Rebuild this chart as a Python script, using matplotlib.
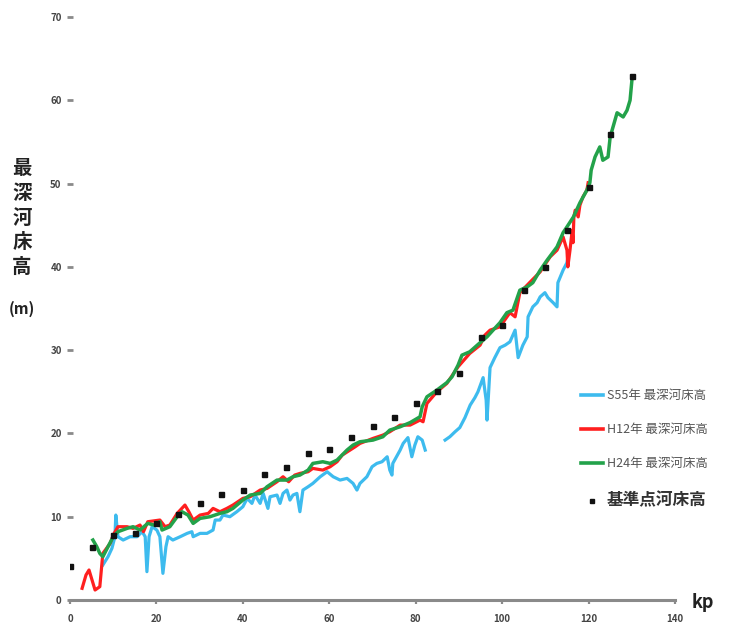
import matplotlib
matplotlib.use("Agg")
import matplotlib.pyplot as plt
from matplotlib.lines import Line2D

plt.rcParams['font.family'] = ['Noto Sans CJK JP', 'DejaVu Sans']

nan = float('nan')

# River-bed profile surveys: distance (kp) vs. deepest bed elevation (m)
blue_kp = [7.6, 8.8, 9.7, 10.4, 10.6, 11.1, 12.3, 13.9, 15.5, 16.7, 17.4, 17.8, 18.3, 19.0, 20.1,
           20.8, 21.5, 22.2, 22.7, 23.8, 25.5, 27.1, 28.2, 28.5, 30.1, 31.7, 33.1, 33.6, 34.7,
           35.4, 37.0, 38.6, 40.0, 41.0, 42.1, 42.8, 44.0, 44.7, 45.8, 46.3, 47.9, 48.6, 49.3,
           50.2, 50.9, 51.6, 52.5, 53.2, 53.9, 55.1, 56.2, 57.9, 59.5, 60.9, 62.5, 64.1, 65.5,
           66.4, 67.1, 68.7, 69.9, 71.0, 72.2, 73.4, 74.0, 74.5, 74.7, 76.4, 77.1, 78.2, 79.1,
           79.8, 80.5, 81.5, 82.2, 84.5, 86.8, 87.9, 89.1, 90.2, 91.4, 92.6, 93.7, 94.4, 95.6,
           96.3, 96.5, 97.2, 98.3, 99.5, 100.7, 101.8, 103.0, 103.7, 104.8, 105.8, 106.0, 107.1,
           108.1, 108.8, 109.9, 110.6, 111.8, 112.7, 112.9, 114.1, 115.0, 115.2]
blue_m = [4.2, 5.2, 6.2, 7.6, 10.2, 7.6, 7.2, 7.6, 7.6, 8.2, 7.6, 3.4, 7.6, 8.8, 8.4,
          7.6, 3.2, 6.4, 7.6, 7.2, 7.6, 8.0, 8.2, 7.6, 8.0, 8.0, 8.4, 9.6, 9.6,
          10.2, 10.0, 10.6, 11.2, 12.2, 11.6, 12.6, 11.6, 12.8, 11.0, 12.4, 12.6, 11.6, 12.8,
          13.2, 12.0, 12.6, 12.8, 10.6, 13.2, 13.6, 14.0, 14.8, 15.4, 14.8, 14.4, 14.6, 14.0,
          13.2, 14.0, 14.8, 16.0, 16.4, 16.6, 17.2, 15.6, 15.0, 16.4, 18.0, 18.8, 19.5, 17.2,
          18.6, 19.6, 19.2, 18.0, nan, 19.2, 19.6, 20.2, 20.7, 21.9, 23.4, 24.3, 25.0, 26.7,
          24.0, 21.6, 27.9, 29.1, 30.3, 30.6, 31.0, 32.4, 29.1, 30.6, 31.6, 34.0, 35.2,
          35.7, 36.4, 36.9, 36.3, 35.7, 35.2, 38.1, 39.6, 40.5, 41.1]

red_kp = [2.8, 3.7, 4.4, 5.1, 5.8, 6.9, 7.6, 9.3, 10.0, 11.1, 13.2, 14.6, 16.2, 17.0, 18.0,
          20.8, 22.0, 23.1, 24.8, 26.6, 27.5, 28.5, 30.1, 32.0, 33.1, 34.7, 36.3, 37.7, 40.0,
          41.7, 44.0, 45.6, 47.9, 49.3, 50.6, 52.0, 53.2, 55.1, 56.2, 58.5, 60.2, 61.8, 63.0,
          64.8, 66.0, 67.1, 70.1, 72.4, 74.0, 76.4, 78.7, 81.0, 81.7, 82.6, 84.9, 87.2, 89.8,
          92.5, 94.9, 96.0, 97.2, 99.5, 101.8, 103.0, 104.1, 106.9, 108.8, 111.1, 112.7, 114.1,
          115.0, 115.2, 115.7, 116.2, 116.4, 116.6, 116.9, 117.6, 118.0, 118.7, 119.6, 119.9]
red_m = [1.4, 3.0, 3.6, 2.4, 1.2, 1.6, 5.6, 6.8, 7.8, 8.8, 8.8, 8.6, 9.0, 8.2, 9.4,
         9.6, 8.8, 9.0, 10.4, 11.4, 10.6, 9.6, 10.2, 10.4, 11.0, 10.6, 11.0, 11.4, 12.2,
         12.4, 13.2, 13.4, 14.2, 14.8, 14.2, 15.0, 15.2, 15.4, 15.8, 15.6, 16.0, 16.6, 17.4,
         18.0, 18.4, 18.8, 19.4, 19.8, 20.2, 21.0, 21.0, 21.6, 21.4, 23.6, 25.0, 26.0, 28.0,
         29.6, 30.6, 31.8, 32.4, 32.8, 34.5, 34.0, 36.9, 38.4, 39.4, 41.2, 42.0, 43.6,
         42.0, 40.0, 42.0, 44.4, 42.9, 46.0, 46.8, 46.0, 47.4, 48.4, 49.2, 50.1]

green_kp = [5.3, 6.2, 6.9, 7.6, 8.6, 10.0, 11.1, 13.2, 14.6, 16.2, 18.0, 19.4, 20.8, 21.3, 23.1,
            24.8, 25.9, 27.3, 28.5, 30.1, 32.4, 34.7, 36.3, 37.7, 40.0, 41.7, 44.0, 45.6, 47.9,
            50.2, 51.6, 53.2, 55.1, 56.2, 58.5, 60.2, 61.8, 64.1, 65.5, 67.1, 70.1, 72.4, 74.0,
            76.4, 78.7, 81.0, 81.5, 82.6, 84.9, 87.2, 88.4, 89.8, 90.7, 92.5, 94.9, 96.5, 97.9,
            99.5, 101.1, 102.5, 104.1, 105.8, 107.1, 108.8, 110.4, 112.7, 114.1, 115.0, 116.5,
            118.0, 119.6, 120.3, 120.6, 121.5, 122.6, 123.3, 124.5, 125.0, 126.6, 128.0, 128.9,
            129.6, 130.1]
green_m = [7.2, 6.4, 5.6, 5.2, 6.2, 7.6, 8.2, 8.6, 8.8, 8.4, 9.2, 9.0, 9.4, 8.4, 8.8,
           10.0, 10.6, 10.2, 9.2, 9.8, 10.0, 10.4, 10.6, 11.0, 12.0, 12.6, 12.8, 13.6, 14.4,
           14.4, 14.8, 15.0, 15.6, 16.4, 16.6, 16.4, 16.8, 18.0, 18.6, 19.0, 19.2, 19.6, 20.4,
           20.8, 21.3, 22.0, 23.2, 24.4, 25.2, 26.1, 26.8, 28.2, 29.4, 29.8, 30.9, 31.6, 32.4,
           33.3, 34.5, 34.8, 37.2, 37.6, 38.1, 39.6, 40.8, 42.4, 44.1, 44.8, 46.0,
           47.7, 49.2, 50.1, 51.6, 53.2, 54.4, 52.8, 53.2, 55.6, 58.5, 58.0, 58.8,
           60.0, 62.8]

point_kp = [0, 5, 10, 15, 20, 25, 30, 35, 40, 45, 50, 55, 60, 65, 70, 75, 80, 85, 90, 95,
            100, 105, 110, 115, 120, 125, 130]
point_m = [4.1, 6.4, 7.8, 8.0, 9.2, 10.3, 11.6, 12.7, 13.2, 15.1, 16.0, 17.6, 18.1, 19.6, 20.9,
           22.0, 23.7, 25.1, 27.2, 31.6, 33.0, 37.2, 40.0, 44.4, 49.6, 56.0, 62.9]

series_labels = ["S55年 最深河床高", "H12年 最深河床高", "H24年 最深河床高", "基準点河床高"]
x_ticks = [0, 20, 40, 60, 80, 100, 120, 140]
y_ticks = [0, 10, 20, 30, 40, 50, 60, 70]

W, H = 734, 623
fig = plt.figure(figsize=(W / 100, H / 100), dpi=100)
ax = fig.add_axes([70 / W, 23 / H, 605 / W, 583 / H])

c_blue, c_red, c_green = "#3dbbee", "#ff1f1f", "#23a24a"
ax.plot(blue_kp, blue_m, color=c_blue, lw=2.3, solid_joinstyle="round", zorder=2)
ax.plot(red_kp, red_m, color=c_red, lw=2.3, solid_joinstyle="round", zorder=3)
ax.plot(green_kp, green_m, color=c_green, lw=2.5, solid_joinstyle="round", zorder=4)
ax.plot(point_kp, point_m, ls="none", marker="s", ms=3.6, color="#111111", zorder=5)

ax.set_xlim(0, 140)
ax.set_ylim(0, 70)
ax.set_xticks(x_ticks)
ax.set_xticklabels([str(v) for v in x_ticks])
ax.set_yticks(y_ticks)
ax.set_yticklabels([str(v) for v in y_ticks])

for s in ("top", "right", "left"):
    ax.spines[s].set_visible(False)
ax.spines["bottom"].set_color("#8a8a8a")
ax.spines["bottom"].set_linewidth(2.2)

ax.tick_params(axis="x", direction="out", length=3, width=1.6, color="#8a8a8a",
               pad=7, labelsize=7, labelcolor="#444444")
ax.tick_params(axis="y", direction="inout", length=5, width=2, color="#8a8a8a",
               pad=3.5, labelsize=7, labelcolor="#444444")
for lab in ax.get_xticklabels() + ax.get_yticklabels():
    lab.set_fontweight("bold")

# vertical axis title, characters stacked top to bottom
title_chars = "最深河床高"
for i, ch in enumerate(title_chars):
    fig.text(22 / W, 1 - (169 + i * 24.5) / H, ch, ha="center", va="center",
             fontsize=14, fontweight="bold", color="#222222")
fig.text(22 / W, 1 - 309 / H, "(m)", ha="center", va="center",
         fontsize=11, fontweight="bold", color="#222222")

fig.text(703 / W, 1 - 603 / H, "kp", ha="center", va="center",
         fontsize=13, fontweight="bold", color="#222222")

handles = [
    Line2D([], [], color=c_blue, lw=2.6),
    Line2D([], [], color=c_red, lw=2.6),
    Line2D([], [], color=c_green, lw=2.6),
    Line2D([], [], ls="none", marker="s", ms=3, color="#111111"),
]
leg = fig.legend(handles, series_labels, loc="upper left",
                 bbox_to_anchor=(576 / W, 1 - 384 / H), frameon=False,
                 fontsize=9, handlelength=1.75, handletextpad=0.3,
                 labelspacing=1.7, borderaxespad=0)
for i, t in enumerate(leg.get_texts()):
    t.set_color("#555555")
    if i == 3:
        t.set_fontsize(12)
        t.set_fontweight("bold")
        t.set_color("#333333")

fig.savefig("out.png", dpi=100)
